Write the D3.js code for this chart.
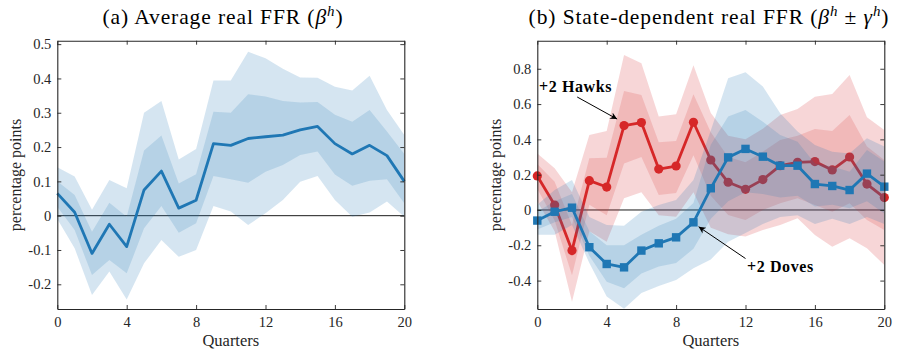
<!DOCTYPE html>
<html><head><meta charset="utf-8">
<script src="https://cdn.jsdelivr.net/npm/d3@7"></script>
<style>body{margin:0;background:#fff}svg{display:block}</style>
</head><body>
<svg id="c" width="899" height="352"></svg>
<script>
// ---------- data ----------
const quarters = d3.range(0, 21);
const xTicks = [0, 4, 8, 12, 16, 20];

// Panel (a) average real FFR
const avgMean = [0.065,0.01,-0.11,-0.025,-0.09,0.075,0.13,0.022,0.045,0.21,0.205,0.225,0.23,0.235,0.25,0.26,0.21,0.18,0.205,0.175,0.10];
const avgHi68 = [0.10,0.06,-0.047,0.038,-0.003,0.19,0.234,0.094,0.121,0.303,0.30,0.354,0.347,0.334,0.33,0.331,0.294,0.274,0.308,0.245,0.18];
const avgLo68 = [0.026,-0.042,-0.173,-0.129,-0.168,-0.037,0.028,-0.05,-0.022,0.116,0.106,0.096,0.128,0.148,0.177,0.187,0.12,0.087,0.102,0.106,0.036];
const avgHi90 = [0.141,0.114,0.017,0.104,0.08,0.30,0.334,0.164,0.194,0.394,0.394,0.478,0.459,0.428,0.403,0.402,0.376,0.365,0.408,0.308,0.235];
const avgLo90 = [-0.01,-0.095,-0.231,-0.163,-0.244,-0.139,-0.071,-0.12,-0.1,0.028,0.012,-0.027,0.007,0.046,0.099,0.116,0.046,-0.003,0.009,0.041,-0.003];
const yTicksA = [-0.2,-0.1,0,0.1,0.2,0.3,0.4,0.5];
const yLabelsA = ["-0.2","-0.1","0","0.1","0.2","0.3","0.4","0.5"];

// Panel (b) state-dependent: +2 Hawks
const hawkMean = [0.193,0.028,-0.23,0.166,0.13,0.478,0.495,0.232,0.249,0.497,0.283,0.157,0.117,0.172,0.251,0.27,0.274,0.227,0.30,0.147,0.07];
const hawkHi68 = [0.26,0.16,-0.085,0.293,0.296,0.674,0.652,0.383,0.391,0.655,0.44,0.30,0.27,0.33,0.397,0.42,0.459,0.448,0.538,0.359,0.283];
const hawkLo68 = [0.12,-0.06,-0.37,0.03,-0.03,0.264,0.30,0.085,0.096,0.31,0.08,-0.028,-0.057,0.0,0.038,0.066,0.028,-0.01,0.038,-0.057,-0.113];
const hawkHi90 = [0.32,0.236,0.10,0.425,0.448,0.878,0.831,0.529,0.542,0.82,0.55,0.42,0.40,0.46,0.538,0.572,0.642,0.657,0.765,0.525,0.453];
const hawkLo90 = [0.05,-0.12,-0.52,-0.12,-0.18,0.066,0.10,-0.03,-0.038,0.10,-0.10,-0.138,-0.15,-0.113,-0.085,-0.047,-0.142,-0.208,-0.16,-0.217,-0.312];
// +2 Doves
const doveMean = [-0.06,-0.01,0.013,-0.211,-0.306,-0.325,-0.23,-0.189,-0.155,-0.07,0.123,0.298,0.346,0.302,0.251,0.251,0.147,0.136,0.113,0.206,0.132];
const doveHi68 = [-0.01,0.05,0.09,-0.12,-0.2,-0.2,-0.14,-0.09,-0.05,0.04,0.37,0.529,0.567,0.5,0.425,0.387,0.264,0.246,0.217,0.34,0.274];
const doveLo68 = [-0.11,-0.07,-0.04,-0.26,-0.406,-0.444,-0.36,-0.32,-0.30,-0.22,-0.05,0.05,0.1,0.09,0.07,0.08,0.02,0.03,0.01,0.05,-0.02];
const doveHi90 = [0.03,0.113,0.17,-0.04,-0.085,-0.09,-0.01,0.028,0.057,0.17,0.45,0.746,0.78,0.699,0.548,0.444,0.368,0.33,0.32,0.406,0.36];
const doveLo90 = [-0.14,-0.14,-0.085,-0.30,-0.49,-0.56,-0.47,-0.43,-0.397,-0.33,-0.28,-0.18,-0.13,-0.08,-0.04,-0.03,-0.08,-0.05,-0.08,-0.04,-0.08];
const yTicksB = [-0.4,-0.2,0,0.2,0.4,0.6,0.8];
const yLabelsB = ["-0.4","-0.2","0","0.2","0.4","0.6","0.8"];

// ---------- style ----------
const BLUE = "#1f77b4", RED = "#d62728";
const SERIF = "'Liberation Serif','DejaVu Serif',serif";
const svg = d3.select("#c");

function panel(opt) {
  const x = d3.scaleLinear().domain([0, 20]).range([opt.x0, opt.x1]);
  const y = d3.scaleLinear().domain(opt.ydom).range([309, 40.7]);
  const g = svg.append("g");
  const cid = "clip" + opt.id;
  svg.append("defs").append("clipPath").attr("id", cid)
    .append("rect").attr("x", opt.x0).attr("y", 40.7).attr("width", opt.x1 - opt.x0).attr("height", 309 - 40.7);

  const band = (lo, hi) => d3.area().x((d, i) => x(quarters[i])).y0((d, i) => y(lo[i])).y1((d, i) => y(hi[i]))(lo);
  const line = d3.line().x((d, i) => x(quarters[i])).y(d => y(d));

  // zero line
  g.append("line").attr("x1", opt.x0).attr("x2", opt.x1).attr("y1", y(0)).attr("y2", y(0))
    .attr("stroke", "#000").attr("stroke-width", 0.9);

  opt.series.forEach(s => {
    const sg = g.append("g");
    sg.append("path").attr("clip-path", `url(#${cid})`).attr("d", band(s.lo90, s.hi90)).attr("fill", s.color).attr("fill-opacity", 0.19);
    sg.append("path").attr("clip-path", `url(#${cid})`).attr("d", band(s.lo68, s.hi68)).attr("fill", s.color).attr("fill-opacity", 0.17);
    sg.append("path").attr("d", line(s.mean)).attr("fill", "none").attr("stroke", s.color)
      .attr("stroke-width", 2.8).attr("stroke-linejoin", "round");
    if (s.marker === "circle") {
      sg.selectAll("circle").data(s.mean).join("circle")
        .attr("cx", (d, i) => x(quarters[i])).attr("cy", d => y(d)).attr("r", 4.6).attr("fill", s.color);
    } else if (s.marker === "square") {
      sg.selectAll("rect").data(s.mean).join("rect")
        .attr("x", (d, i) => x(quarters[i]) - 4.2).attr("y", d => y(d) - 4.2)
        .attr("width", 8.4).attr("height", 8.4).attr("fill", s.color);
    }
  });

  // axes (MATLAB style box, inward ticks)
  const ax = g.append("g").attr("font-family", SERIF);
  ax.append("g").attr("transform", `translate(${opt.x0},0)`)
    .call(d3.axisLeft(y).tickValues(opt.yTicks).tickFormat((d, i) => opt.yLabels[i]).tickSize(-4).tickSizeOuter(0).tickPadding(6));
  ax.append("g").attr("transform", `translate(0,309)`)
    .call(d3.axisBottom(x).tickValues(xTicks).tickFormat(d3.format("d")).tickSize(-4).tickSizeOuter(0).tickPadding(8));
  ax.append("g").attr("transform", `translate(${opt.x1},0)`)
    .call(d3.axisRight(y).tickValues(opt.yTicks).tickFormat("").tickSize(-4).tickSizeOuter(0));
  ax.append("g").attr("transform", `translate(0,40.7)`)
    .call(d3.axisTop(x).tickValues(xTicks).tickFormat("").tickSize(-4).tickSizeOuter(0));
  ax.selectAll("path.domain").attr("stroke", "#262626").attr("stroke-width", 1.1);
  ax.selectAll(".tick line").attr("stroke", "#262626").attr("stroke-width", 0.9);
  ax.selectAll(".tick text").attr("font-size", 14.5).attr("fill", "#262626").attr("font-family", SERIF);

  // axis labels
  g.append("text").attr("x", (opt.x0 + opt.x1) / 2).attr("y", 346).attr("text-anchor", "middle")
    .attr("font-family", SERIF).attr("font-size", 16.5).attr("fill", "#262626").text("Quarters");
  g.append("text").attr("transform", `translate(${opt.ylabX},175) rotate(-90)`).attr("text-anchor", "middle")
    .attr("font-family", SERIF).attr("font-size", 16).attr("fill", "#262626").text("percentage points");

  // title
  const t = g.append("text").attr("x", opt.titleX).attr("y", 24).attr("text-anchor", "middle")
    .attr("font-family", SERIF).attr("font-size", 21.5).attr("letter-spacing", 0.9).attr("fill", "#000");
  opt.title(t);
  return { x, y, g };
}

const pa = panel({
  id: "a", x0: 57.3, x1: 404.3, ydom: [-0.272, 0.51], yTicks: yTicksA, yLabels: yLabelsA, ylabX: 21, titleX: 223,
  series: [{ color: BLUE, mean: avgMean, lo68: avgLo68, hi68: avgHi68, lo90: avgLo90, hi90: avgHi90, marker: null }],
  title: t => {
    t.append("tspan").text("(a) Average real FFR (");
    t.append("tspan").attr("font-style", "italic").text("β");
    t.append("tspan").attr("font-style", "italic").attr("font-size", 15).attr("dy", -8).text("h");
    t.append("tspan").attr("dy", 8).text(")");
  }
});

const pb = panel({
  id: "b", x0: 537.3, x1: 884.3, ydom: [-0.561, 0.959], yTicks: yTicksB, yLabels: yLabelsB, ylabX: 501, titleX: 709,
  series: [
    { color: RED, mean: hawkMean, lo68: hawkLo68, hi68: hawkHi68, lo90: hawkLo90, hi90: hawkHi90, marker: "circle" },
    { color: BLUE, mean: doveMean, lo68: doveLo68, hi68: doveHi68, lo90: doveLo90, hi90: doveHi90, marker: "square" }
  ],
  title: t => {
    t.append("tspan").text("(b) State-dependent real FFR (");
    t.append("tspan").attr("font-style", "italic").text("β");
    t.append("tspan").attr("font-style", "italic").attr("font-size", 15).attr("dy", -8).text("h");
    t.append("tspan").attr("dy", 8).text(" ± ");
    t.append("tspan").attr("font-style", "italic").text("γ");
    t.append("tspan").attr("font-style", "italic").attr("font-size", 15).attr("dy", -8).text("h");
    t.append("tspan").attr("dy", 8).text(")");
  }
});

// annotations
const defs = svg.append("defs");
defs.append("marker").attr("id", "arr").attr("viewBox", "0 0 10 10").attr("refX", 10).attr("refY", 5)
  .attr("markerWidth", 9).attr("markerHeight", 7).attr("orient", "auto").attr("markerUnits", "userSpaceOnUse")
  .append("path").attr("d", "M0,0 L10,5 L0,10 L3,5 Z").attr("fill", "#000");

function annot(label, tx, ty, fromQ, fromV, toQ, toV) {
  svg.append("text").attr("x", tx).attr("y", ty).attr("font-family", SERIF).attr("font-weight", "bold")
    .attr("font-size", 16).attr("letter-spacing", 0.6).attr("fill", "#000").text(label);
  svg.append("line")
    .attr("x1", pb.x(fromQ)).attr("y1", pb.y(fromV))
    .attr("x2", pb.x(toQ)).attr("y2", pb.y(toV))
    .attr("stroke", "#000").attr("stroke-width", 1).attr("marker-end", "url(#arr)");
}
annot("+2 Hawks", 539, 92, 2.3, 0.64, 4.6, 0.515);
annot("+2 Doves", 747, 272, 12.0, -0.275, 9.3, -0.095);
</script>
</body></html>
